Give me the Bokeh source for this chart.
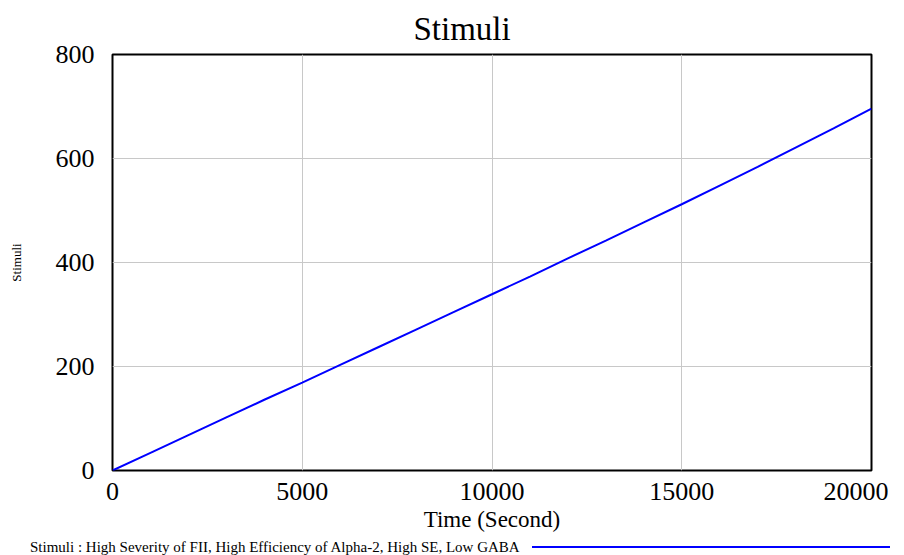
from bokeh.plotting import figure
from bokeh.layouts import column
from bokeh.models import Range1d, Title, FixedTicker, Div
from bokeh.embed import file_html
from bokeh.resources import INLINE

# data
time_s = [0, 1000, 2000, 3000, 4000, 5000, 6000, 7000, 8000, 9000, 10000,
          11000, 12000, 13000, 14000, 15000, 16000, 17000, 18000, 19000, 20000]
stimuli = [0, 34, 68, 102, 136, 169, 203, 237, 271, 305, 339,
           373, 408, 442, 477, 512, 548, 584, 621, 658, 696]
x_ticks = [0, 5000, 10000, 15000, 20000]
y_ticks = [0, 200, 400, 600, 800]
legend_text = "Stimuli : High Severity of FII, High Efficiency of Alpha-2, High SE, Low GABA"
series_color = "#0000ff"

FONT = "Liberation Serif"

p = figure(width=888, height=535, output_backend="svg", toolbar_location=None,
           x_range=Range1d(0, 20000), y_range=Range1d(0, 800),
           min_border_left=112, min_border_right=17, min_border_top=54, min_border_bottom=65)
p.title = Title(text="Stimuli", text_font=FONT, text_font_size="33px",
                text_font_style="normal", align="left", offset=301, text_color="black",
                standoff=16)
p.line(time_s, stimuli, line_color=series_color, line_width=2)

p.outline_line_color = "black"
p.outline_line_width = 2
p.outline_line_alpha = 1

for ax in (p.xaxis[0], p.yaxis[0]):
    ax.axis_line_color = None
    ax.major_tick_line_color = None
    ax.minor_tick_line_color = None
    ax.major_label_text_font = FONT
    ax.major_label_text_font_size = "26px"
    ax.major_label_text_color = "black"
    ax.axis_label_text_font = FONT
    ax.axis_label_text_font_style = "normal"
    ax.axis_label_text_color = "black"

p.xaxis[0].ticker = FixedTicker(ticks=x_ticks)
p.yaxis[0].ticker = FixedTicker(ticks=y_ticks)
p.xaxis[0].axis_label = "Time (Second)"
p.xaxis[0].axis_label_text_font_size = "23px"
p.xaxis[0].major_label_standoff = 6
p.xaxis[0].axis_label_standoff = 4
p.yaxis[0].axis_label = "Stimuli"
p.yaxis[0].axis_label_text_font_size = "13px"
p.yaxis[0].major_label_standoff = 12
p.yaxis[0].axis_label_standoff = 29

p.xgrid.grid_line_color = "#c8c8c8"
p.ygrid.grid_line_color = "#c8c8c8"

# legend row: series name followed by its line sample
legend_html = (
    '<div style="display:flex;align-items:center;white-space:nowrap;'
    "font-family:'Liberation Serif';font-size:15px;color:black;"
    'margin-left:25px;line-height:12px;height:12px">'
    f'<span>{legend_text}</span>'
    '<span style="display:inline-block;width:358px;height:2px;'
    f'background-color:{series_color};margin-left:12px"></span></div>'
)
legend_row = Div(text=legend_html, width=888, height=12)

layout = column(p, legend_row, spacing=0)
open("out.html", "w").write(file_html(layout, INLINE))
